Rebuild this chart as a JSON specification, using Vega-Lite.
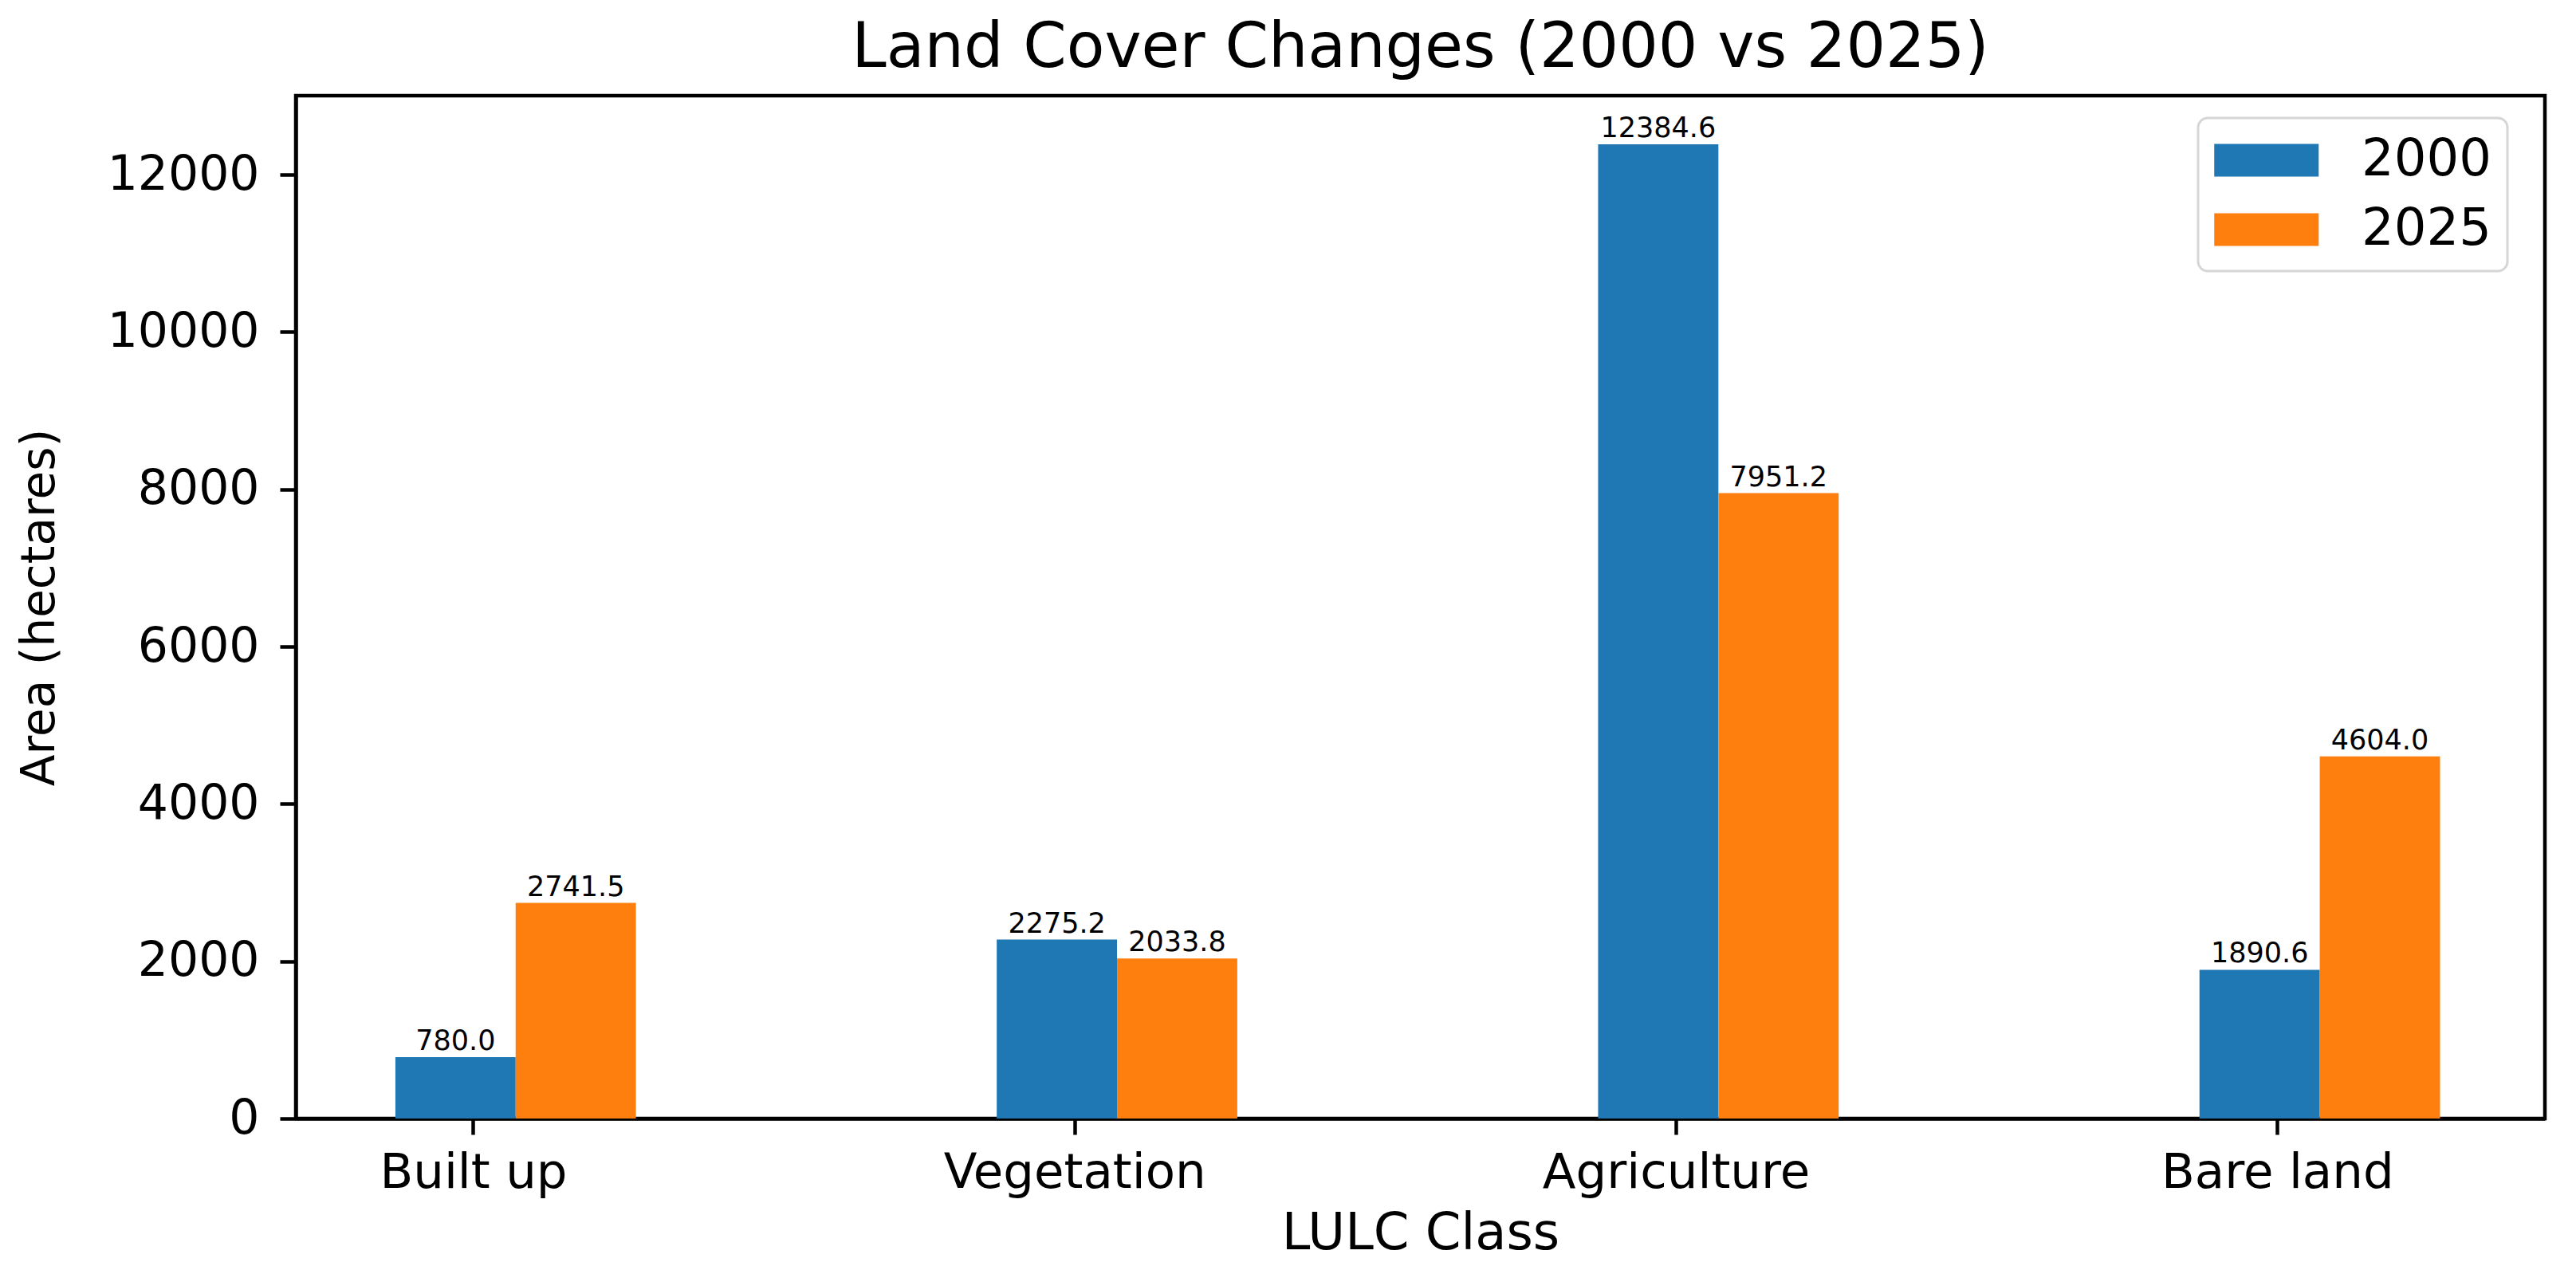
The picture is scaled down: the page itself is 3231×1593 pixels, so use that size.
{
  "$schema": "https://vega.github.io/schema/vega-lite/v6.json",
  "autosize": {"type": "none"},
  "width": 2821,
  "height": 1283,
  "padding": {"left": 371, "top": 120, "right": 39, "bottom": 190},
  "background": "white",
  "title": {
    "text": "Land Cover Changes (2000 vs 2025)",
    "font": "DejaVu Sans",
    "fontSize": 78,
    "fontWeight": "normal",
    "color": "black",
    "anchor": "middle",
    "offset": 20
  },
  "config": {
    "view": {"stroke": "black", "strokeWidth": 4.5},
    "axis": {
      "labelFont": "DejaVu Sans",
      "titleFont": "DejaVu Sans",
      "labelFontSize": 60,
      "titleFontSize": 60,
      "titleFontWeight": "normal",
      "labelColor": "black",
      "titleColor": "black",
      "domainColor": "black",
      "domainWidth": 4.5,
      "tickColor": "black",
      "tickWidth": 4.5,
      "tickSize": 20,
      "labelPadding": 18,
      "labelLimit": 0,
      "grid": false
    },
    "legend": {
      "labelFont": "DejaVu Sans",
      "labelFontSize": 64,
      "labelColor": "black",
      "labelLimit": 0,
      "strokeWidth": 3
    }
  },
  "data": {
    "values": [
      {"cls": "Built up", "year": "2000", "area": 780.0},
      {"cls": "Built up", "year": "2025", "area": 2741.5},
      {"cls": "Vegetation", "year": "2000", "area": 2275.2},
      {"cls": "Vegetation", "year": "2025", "area": 2033.8},
      {"cls": "Agriculture", "year": "2000", "area": 12384.6},
      {"cls": "Agriculture", "year": "2025", "area": 7951.2},
      {"cls": "Bare land", "year": "2000", "area": 1890.6},
      {"cls": "Bare land", "year": "2025", "area": 4604.0}
    ]
  },
  "encoding": {
    "x": {
      "field": "cls",
      "type": "nominal",
      "sort": ["Built up", "Vegetation", "Agriculture", "Bare land"],
      "scale": {"paddingInner": 0.46, "paddingOuter": 0.1, "align": 0.128},
      "axis": {"title": "LULC Class", "labelAngle": 0, "labelLimit": 0, "labelFontSize": 61, "titleFontSize": 64, "titlePadding": 14}
    },
    "xOffset": {
      "field": "year",
      "type": "nominal",
      "scale": {"domain": ["2000", "2025"], "paddingInner": 0, "paddingOuter": 0.35, "align": 1}
    },
    "y": {
      "field": "area",
      "type": "quantitative",
      "scale": {"domain": [0, 13003.8], "nice": false, "zero": true},
      "axis": {"title": "Area (hectares)", "values": [0, 2000, 4000, 6000, 8000, 10000, 12000], "format": "d", "labelLimit": 0, "labelPadding": 26, "titleFontSize": 58, "titleX": -321, "titleBaseline": "middle"}
    }
  },
  "layer": [
    {
      "mark": {"type": "bar"},
      "encoding": {
        "color": {
          "field": "year",
          "type": "nominal",
          "scale": {"domain": ["2000", "2025"], "range": ["#1f77b4", "#ff7f0e"]},
          "legend": {
            "title": null,
            "orient": "none",
            "legendX": 2386,
            "legendY": 28,
            "symbolType": "M-1,-0.626H3V0.626H-1Z",
            "symbolSize": 4290,
            "symbolStrokeWidth": 0,
            "labelOffset": 119,
            "rowPadding": 22,
            "padding": 20,
            "strokeColor": "#d6d6d6",
            "cornerRadius": 12,
            "fillColor": "white"
          }
        }
      }
    },
    {
      "mark": {"type": "text", "baseline": "bottom", "dy": -2, "font": "DejaVu Sans", "fontSize": 35, "color": "black"},
      "encoding": {
        "text": {"field": "area", "type": "quantitative", "format": ".1f"}
      }
    }
  ]
}
